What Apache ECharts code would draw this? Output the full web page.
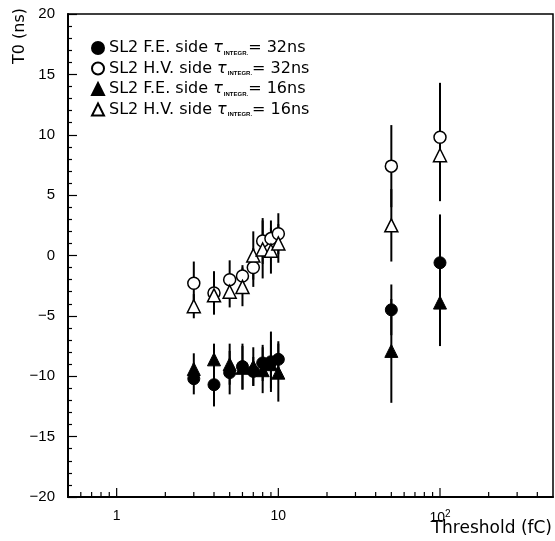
<!DOCTYPE html>
<html><head><meta charset="utf-8">
<script src="https://cdn.jsdelivr.net/npm/echarts@6/dist/echarts.min.js"></script>
<style>html,body{margin:0;padding:0;background:#fff}#c{width:555px;height:541px}</style>
</head><body><div id="c"></div>
<script>
// ---- data ----
const thresholds = [3, 4, 5, 6, 7, 8, 9, 10, 50, 100];
const fe32    = [-10.2, -10.7, -9.7, -9.2, -9.6, -8.9, -8.8, -8.6, -4.5, -0.6];
const fe32Err = [1.3, 1.8, 1.8, 1.9, 1.2, 1.5, 2.5, 1.5, 2.1, 4.0];
const hv32    = [-2.3, -3.1, -2.0, -1.7, -1.0, 1.2, 1.4, 1.8, 7.4, 9.8];
const hv32Err = [1.8, 1.8, 1.6, 0.9, 1.6, 1.9, 1.5, 1.7, 3.4, 4.5];
const fe16    = [-9.4, -8.6, -9.0, -9.3, -9.2, -9.5, -9.0, -9.7, -7.9, -3.9];
const fe16Err = [1.3, 1.3, 1.7, 1.8, 1.6, 1.9, 2.0, 2.4, 4.3, 3.6];
const hv16    = [-4.2, -3.3, -3.0, -2.6, 0.0, 0.5, 0.4, 1.0, 2.5, 8.3];
const hv16Err = [1.0, 1.3, 1.3, 1.6, 2.0, 2.4, 1.9, 1.6, 3.0, 3.8];

const seriesNames = ['SL2 F.E. side 32', 'SL2 H.V. side 32', 'SL2 F.E. side 16', 'SL2 H.V. side 16'];
const legendPrefix = ['SL2 F.E. side ', 'SL2 H.V. side ', 'SL2 F.E. side ', 'SL2 H.V. side '];
const legendSuffix = ['= 32ns', '= 32ns', '= 16ns', '= 16ns'];

const xMajorTicks = [1, 10, 100];
const xMajorLabels = ['1', '10', '{b|10}{sup|2}'];
const xMinorTicks = [0.6, 0.7, 0.8, 0.9, 2, 3, 4, 5, 6, 7, 8, 9, 20, 30, 40, 50, 60, 70, 80, 90, 200, 300, 400];
const xMin = 0.5, xMax = 500, yMin = -20, yMax = 20, yInterval = 5;

// ---- chart ----
const FONT = 'Liberation Sans';
const TFONT = 'DejaVu Sans';
const chart = echarts.init(document.getElementById('c'), null, {renderer: 'canvas'});

const sets = [
  {v: fe32, e: fe32Err, symbol: 'circle', open: false, size: 12},
  {v: hv32, e: hv32Err, symbol: 'circle', open: true, size: 12},
  {v: fe16, e: fe16Err, symbol: 'triangle', open: false, size: 13},
  {v: hv16, e: hv16Err, symbol: 'triangle', open: true, size: 13}
];

const series = [];
sets.forEach((s, i) => {
  series.push({
    type: 'custom', name: seriesNames[i] + ' err', z: 2, silent: true,
    data: thresholds.map((x, k) => [x, s.v[k] - s.e[k], s.v[k] + s.e[k]]),
    renderItem: (params, api) => {
      const a = api.coord([api.value(0), api.value(1)]);
      const b = api.coord([api.value(0), api.value(2)]);
      return {type: 'line', shape: {x1: a[0], y1: a[1], x2: b[0], y2: b[1]},
        style: {stroke: '#000', lineWidth: 2}};
    }
  });
});
sets.forEach((s, i) => {
  series.push({
    type: 'scatter', name: seriesNames[i], z: 5,
    symbol: s.symbol, symbolSize: s.size,
    data: thresholds.map((x, k) => [x, s.v[k]]),
    itemStyle: s.open ? {color: '#fff', borderColor: '#000', borderWidth: 1.5, opacity: 1}
                      : {color: '#000', borderColor: '#000', borderWidth: 1, opacity: 1}
  });
});
series.push({
  type: 'custom', name: 'xticks', z: 6, silent: true,
  data: xMajorTicks.map(v => [v, 1]).concat(xMinorTicks.map(v => [v, 0])),
  renderItem: (params, api) => {
    const p = api.coord([api.value(0), yMin]);
    const len = api.value(1) ? 9 : 5;
    return {type: 'line', shape: {x1: p[0], y1: p[1], x2: p[0], y2: p[1] - len},
      style: {stroke: '#000', lineWidth: 1.2}};
  }
});

chart.setOption({
  animation: false,
  backgroundColor: '#fff',
  textStyle: {fontFamily: FONT},
  grid: {left: 68, right: 2, top: 14, bottom: 44, show: true, borderColor: '#000', borderWidth: 1.5, backgroundColor: 'transparent'},
  xAxis: {
    type: 'log', logBase: 10, min: xMin, max: xMax,
    axisLine: {onZero: false, lineStyle: {color: '#000', width: 2}},
    axisTick: {show: false},
    splitLine: {show: false},
    axisLabel: {
      color: '#000', fontSize: 14, fontFamily: FONT, margin: 12, showMinLabel: false, showMaxLabel: false,
      formatter: (v) => {
        for (let i = 0; i < xMajorTicks.length; i++) if (Math.abs(v - xMajorTicks[i]) < 1e-6 * xMajorTicks[i]) return xMajorLabels[i];
        return '';
      },
      rich: {
        b: {fontSize: 14, fontFamily: FONT, color: '#000'},
        sup: {fontSize: 10, fontFamily: FONT, color: '#000', verticalAlign: 'top', padding: [0, 0, 8, 0]}
      }
    }
  },
  yAxis: {
    type: 'value', min: yMin, max: yMax, interval: yInterval,
    axisLine: {onZero: false, lineStyle: {color: '#000', width: 2}},
    axisTick: {inside: true, length: 9, lineStyle: {color: '#000', width: 1.2}},
    minorTick: {show: true, splitNumber: 5, length: 4, lineStyle: {color: '#000', width: 1.2}},
    splitLine: {show: false},
    axisLabel: {color: '#000', fontSize: 15, fontFamily: FONT, margin: 13,
      formatter: (v) => (v < 0 ? '\u2212' + Math.abs(v) : String(v))}
  },
  legend: {
    orient: 'vertical', left: 86, top: 35, itemWidth: 12, itemHeight: 12, itemGap: 4.5,
    selectedMode: false,
    data: seriesNames,
    formatter: (name) => {
      const i = seriesNames.indexOf(name);
      return '{a|' + legendPrefix[i] + '}{t|\u03c4}{s|INTEGR.}{a|' + legendSuffix[i] + '}';
    },
    textStyle: {
      fontFamily: TFONT, color: '#000', lineHeight: 16,
      rich: {
        a: {fontSize: 16, fontFamily: TFONT, color: '#000', lineHeight: 16},
        t: {fontSize: 16, fontFamily: TFONT, fontStyle: 'italic', color: '#000', lineHeight: 16, padding: [0, 1, 0, 0]},
        s: {fontSize: 6, fontFamily: FONT, fontWeight: 'bold', color: '#000', verticalAlign: 'bottom', lineHeight: 16, padding: [6, 0, 0, 0]}
      }
    }
  },
  graphic: [
    {type: 'text', left: 12, top: 8, rotation: Math.PI / 2, style: {text: 'T0 (ns)', font: '16px "DejaVu Sans"', fill: '#000'}},
    {type: 'text', right: 3, bottom: 4, style: {text: 'Threshold (fC)', font: '17px "DejaVu Sans"', fill: '#000'}}
  ],
  series: series
});
</script></body></html>
